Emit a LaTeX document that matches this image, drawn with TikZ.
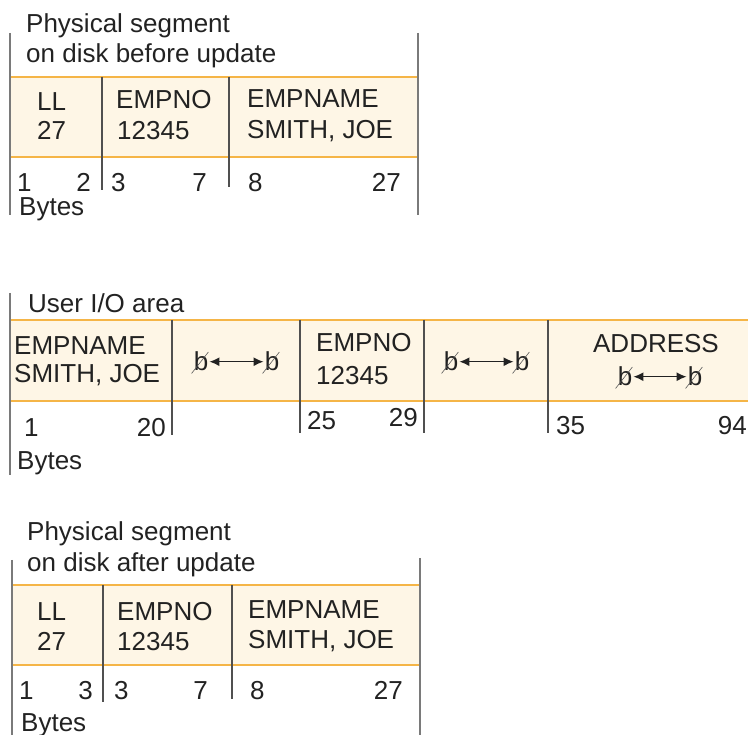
\documentclass[tikz,border=0pt]{standalone}
\usepackage{fontspec}
\setmainfont{Liberation Sans}
\usepackage{tikz}
\usetikzlibrary{arrows.meta}
\definecolor{segfill}{HTML}{FEF6E6}
\definecolor{segline}{HTML}{F5B547}
\definecolor{ruleline}{HTML}{7A7A7A}
\definecolor{cellline}{HTML}{505050}
\definecolor{segtext}{HTML}{222222}
\tikzset{segbox/.style={draw=segline, fill=segfill, line width=1.6pt}}
\tikzset{outrule/.style={draw=ruleline, line width=1.8pt}}
\tikzset{cellrule/.style={draw=cellline, line width=1.6pt}}
\tikzset{segtxt/.style={anchor=base west, inner sep=0pt, text=segtext, font=\fontsize{26}{29}\selectfont}}
\tikzset{segtxtr/.style={segtxt, anchor=base east}}
\tikzset{segtxtc/.style={segtxt, anchor=base}}
\tikzset{blankb/.style={segtxtc}}
\tikzset{blankarrow/.style={{Latex[length=10pt,width=9pt]}-{Latex[length=10pt,width=9pt]}, draw=segtext, line width=1.4pt, shorten <=1pt, shorten >=1pt}}
\tikzset{blankslash/.style={draw=segtext!75, line width=0.6pt}}

\begin{document}
\begin{tikzpicture}[x=1pt, y=-1pt]
  \useasboundingbox (0,0) rectangle (748,735);
  \clip (0,0) rectangle (748,735);

  \path[segbox] (10,77) rectangle (418,157);
  \draw[cellrule] (102,77) -- (102,190);
  \draw[cellrule] (229,77) -- (229,187);
  \draw[outrule] (10,33) -- (10,215);
  \draw[outrule] (418,33) -- (418,215);

  \node[segtxt] (oldtitle) at (26,33) {Physical segment};
  \node[segtxt] (oldsub) at (26,63) {on disk before update};
  \node[segtxt] (oldll) at (37,111) {LL};
  \node[segtxt] (oldllval) at (37,140) {27};
  \node[segtxt] (oldno) at (116,109) {EMPNO};
  \node[segtxt] (oldnoval) at (117,140) {12345};
  \node[segtxt] (oldname) at (247,108) {EMPNAME};
  \node[segtxt] (oldnameval) at (247,139) {SMITH, JOE};
  \node[segtxt] (oldbyteA) at (17,192) {1};
  \node[segtxtr] (oldbyteB) at (91,192) {2};
  \node[segtxt] (oldbyteC) at (111,192) {3};
  \node[segtxtr] (oldbyteD) at (207,192) {7};
  \node[segtxt] (oldbyteE) at (248,192) {8};
  \node[segtxtr] (oldbyteF) at (401,192) {27};
  \node[segtxt] (oldbytes) at (19,216) {Bytes};

  \path[segbox] (10,320) rectangle (760,401);
  \draw[cellrule] (172,320) -- (172,435);
  \draw[cellrule] (300,320) -- (300,433);
  \draw[cellrule] (424,320) -- (424,433);
  \draw[cellrule] (548,320) -- (548,433);
  \draw[outrule] (10,293) -- (10,475);

  \node[segtxt] (iotitle) at (28,313) {User I/O area};
  \node[segtxt] (ioname) at (14,355) {EMPNAME};
  \node[segtxt] (ionameval) at (14,383) {SMITH, JOE};
  \node[blankb] (padAl) at (201,371) {b};
  \node[blankb] (padAr) at (272,371) {b};
  \node[segtxt] (iono) at (316,352) {EMPNO};
  \node[segtxt] (ionoval) at (316,385) {12345};
  \node[blankb] (padBl) at (451,371) {b};
  \node[blankb] (padBr) at (522,371) {b};
  \node[segtxtc] (ioaddr) at (656,353) {ADDRESS};
  \node[blankb] (padCl) at (625,386) {b};
  \node[blankb] (padCr) at (695,386) {b};
  \node[segtxt] (iobyteA) at (24,437) {1};
  \node[segtxtr] (iobyteB) at (166,437) {20};
  \node[segtxt] (iobyteC) at (307,430) {25};
  \node[segtxtr] (iobyteD) at (418,427) {29};
  \node[segtxt] (iobyteE) at (556,435) {35};
  \node[segtxtr] (iobyteF) at (747,435) {94};
  \node[segtxt] (iobytes) at (17,470) {Bytes};

  \draw[blankarrow] (padAl) -- (padAr);
  \draw[blankarrow] (padBl) -- (padBr);
  \draw[blankarrow] (padCl) -- (padCr);
  \draw[blankslash] ([shift={(-2pt,-2pt)}]padAl.south west) -- (padAl.north east);
  \draw[blankslash] ([shift={(-2pt,-2pt)}]padAr.south west) -- (padAr.north east);
  \draw[blankslash] ([shift={(-2pt,-2pt)}]padBl.south west) -- (padBl.north east);
  \draw[blankslash] ([shift={(-2pt,-2pt)}]padBr.south west) -- (padBr.north east);
  \draw[blankslash] ([shift={(-2pt,-2pt)}]padCl.south west) -- (padCl.north east);
  \draw[blankslash] ([shift={(-2pt,-2pt)}]padCr.south west) -- (padCr.north east);

  \path[segbox] (12,585) rectangle (420,665);
  \draw[cellrule] (103,585) -- (103,702);
  \draw[cellrule] (232,585) -- (232,699);
  \draw[outrule] (12,560) -- (12,740);
  \draw[outrule] (420,558) -- (420,740);

  \node[segtxt] (newtitle) at (27,540) {Physical segment};
  \node[segtxt] (newsub) at (27,572) {on disk after update};
  \node[segtxt] (newll) at (37,620) {LL};
  \node[segtxt] (newllval) at (37,650) {27};
  \node[segtxt] (newno) at (117,620) {EMPNO};
  \node[segtxt] (newnoval) at (117,650) {12345};
  \node[segtxt] (newname) at (248,618) {EMPNAME};
  \node[segtxt] (newnameval) at (248,648) {SMITH, JOE};
  \node[segtxt] (newbyteA) at (19,699) {1};
  \node[segtxtr] (newbyteB) at (93,699) {3};
  \node[segtxt] (newbyteC) at (114,699) {3};
  \node[segtxtr] (newbyteD) at (208,699) {7};
  \node[segtxt] (newbyteE) at (250,699) {8};
  \node[segtxtr] (newbyteF) at (403,699) {27};
  \node[segtxt] (newbytes) at (21,731) {Bytes};
\end{tikzpicture}
\end{document}
